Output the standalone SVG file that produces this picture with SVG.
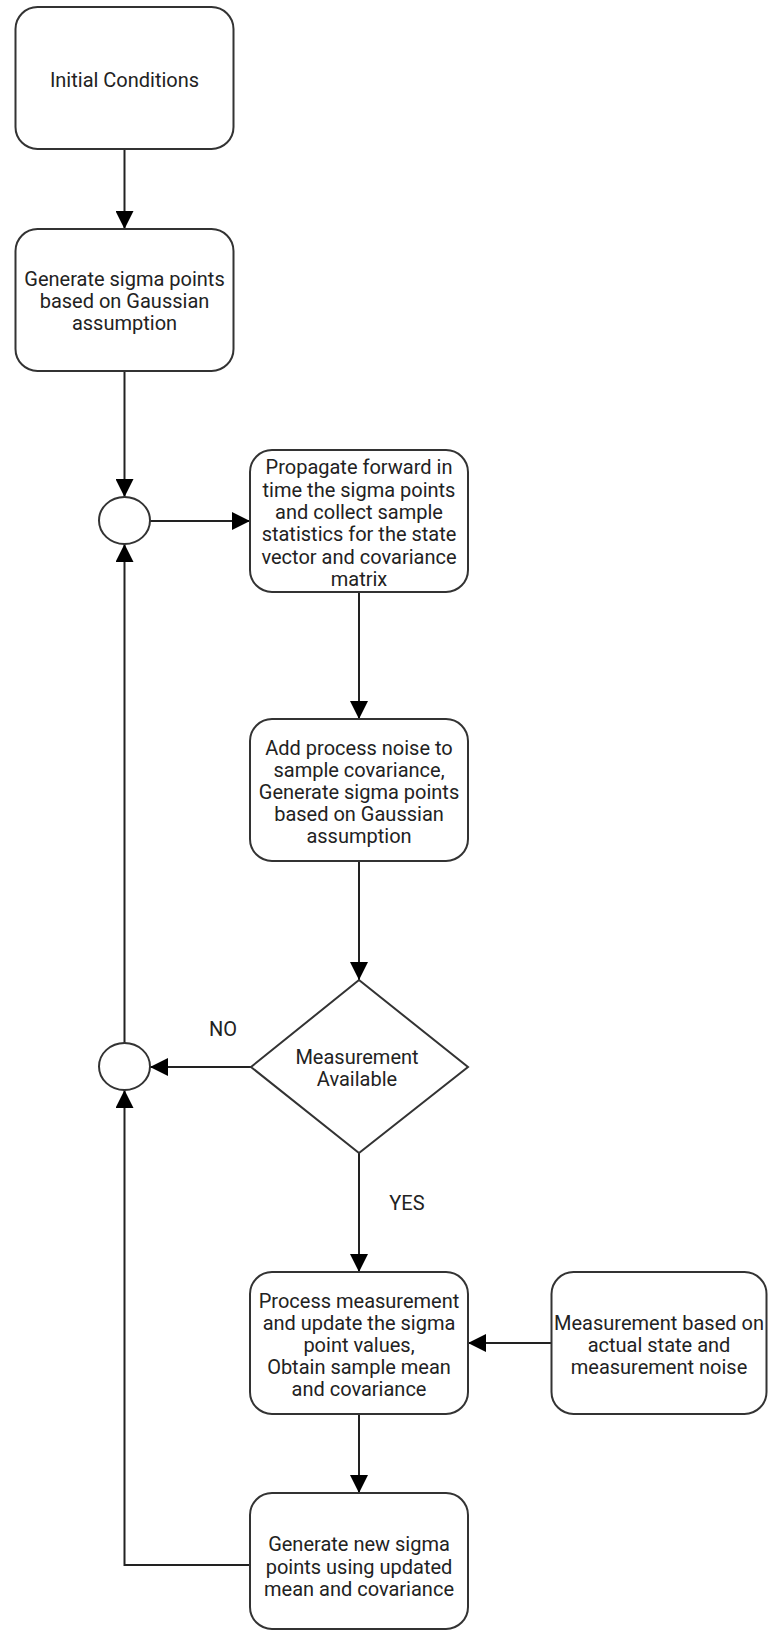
<svg xmlns="http://www.w3.org/2000/svg" width="768" height="1631" viewBox="0 0 768 1631">
<style>
.box{fill:#fff;stroke:#333;stroke-width:2}
.conn{fill:none;stroke:#222;stroke-width:2}
text{font-family:Roboto,"Liberation Sans",sans-serif;font-size:20px;fill:#222;text-anchor:middle}
</style>
<defs>
<marker id="arr" viewBox="0 0 18 18" refX="18" refY="9" markerWidth="18" markerHeight="18" markerUnits="userSpaceOnUse" orient="auto">
<path d="M0,0 L18,9 L0,18 Z" fill="#000"/>
</marker>
</defs>
<rect width="768" height="1631" fill="#fff"/>
<g id="connectors">
<path class="conn" d="M124.5,149 V229" marker-end="url(#arr)"/>
<path class="conn" d="M124.5,371 V497" marker-end="url(#arr)"/>
<path class="conn" d="M150,521 H250" marker-end="url(#arr)"/>
<path class="conn" d="M359,592 V719" marker-end="url(#arr)"/>
<path class="conn" d="M359,861 V980" marker-end="url(#arr)"/>
<path class="conn" d="M251,1067 H150" marker-end="url(#arr)"/>
<path class="conn" d="M124.5,1043 V544" marker-end="url(#arr)"/>
<path class="conn" d="M359,1153 V1272" marker-end="url(#arr)"/>
<path class="conn" d="M551.5,1343 H468" marker-end="url(#arr)"/>
<path class="conn" d="M359,1414 V1493" marker-end="url(#arr)"/>
<path class="conn" d="M250,1565 H124.5 V1090" marker-end="url(#arr)"/>
<text x="223" y="1036">NO</text>
<text x="407" y="1210">YES</text>
</g>
<g id="n1">
<rect class="box" x="15.5" y="7" width="218" height="142" rx="22"/>
<text x="124.5" y="87">Initial Conditions</text>
</g>
<g id="n2">
<rect class="box" x="15.5" y="229" width="218" height="142" rx="22"/>
<text x="124.5" y="286">Generate sigma points</text>
<text x="124.5" y="308">based on Gaussian</text>
<text x="124.5" y="330">assumption</text>
</g>
<g id="c1">
<ellipse class="box" cx="124.5" cy="520.5" rx="25.5" ry="23.5"/>
</g>
<g id="n3">
<rect class="box" x="250" y="450" width="218" height="142" rx="22"/>
<text x="359" y="474">Propagate forward in</text>
<text x="359" y="497">time the sigma points</text>
<text x="359" y="519">and collect sample</text>
<text x="359" y="541">statistics for the state</text>
<text x="359" y="564">vector and covariance</text>
<text x="359" y="586">matrix</text>
</g>
<g id="n4">
<rect class="box" x="250" y="719" width="218" height="142" rx="22"/>
<text x="359" y="755">Add process noise to</text>
<text x="359" y="777">sample covariance,</text>
<text x="359" y="799">Generate sigma points</text>
<text x="359" y="821">based on Gaussian</text>
<text x="359" y="843">assumption</text>
</g>
<g id="d1">
<polygon class="box" points="359,980 468,1067 359,1153 251,1067"/>
<text x="357" y="1064">Measurement</text>
<text x="357" y="1086">Available</text>
</g>
<g id="c2">
<ellipse class="box" cx="124.5" cy="1066.5" rx="25.5" ry="23.5"/>
</g>
<g id="n5">
<rect class="box" x="250" y="1272" width="218" height="142" rx="22"/>
<text x="359" y="1308">Process measurement</text>
<text x="359" y="1330">and update the sigma</text>
<text x="359" y="1352">point values,</text>
<text x="359" y="1374">Obtain sample mean</text>
<text x="359" y="1396">and covariance</text>
</g>
<g id="n6">
<rect class="box" x="551.5" y="1272" width="215" height="142" rx="22"/>
<text x="659" y="1330">Measurement based on</text>
<text x="659" y="1352">actual state and</text>
<text x="659" y="1374">measurement noise</text>
</g>
<g id="n7">
<rect class="box" x="250" y="1493" width="218" height="136" rx="22"/>
<text x="359" y="1551">Generate new sigma</text>
<text x="359" y="1574">points using updated</text>
<text x="359" y="1596">mean and covariance</text>
</g>
</svg>
